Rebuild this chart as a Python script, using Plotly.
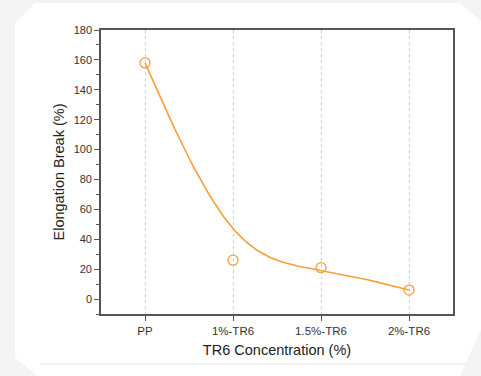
import numpy as np
import plotly.graph_objects as go

categories = ["PP", "1%-TR6", "1.5%-TR6", "2%-TR6"]
elongation = [158, 26, 21, 6]
y_ticks = [0, 20, 40, 60, 80, 100, 120, 140, 160, 180]

ORANGE = "rgb(248,158,58)"

# uniform cubic B-spline using data points as control points (ends tripled)
xc = np.arange(len(categories), dtype=float)
yc = np.array(elongation, dtype=float)
px = np.concatenate([[xc[0]] * 2, xc, [xc[-1]] * 2])
py = np.concatenate([[yc[0]] * 2, yc, [yc[-1]] * 2])
bx, by = [], []
t = np.linspace(0, 1, 60)
b0 = (1 - t) ** 3 / 6
b1 = (3 * t**3 - 6 * t**2 + 4) / 6
b2 = (-3 * t**3 + 3 * t**2 + 3 * t + 1) / 6
b3 = t**3 / 6
for i in range(len(px) - 3):
    seg_x = b0 * px[i] + b1 * px[i + 1] + b2 * px[i + 2] + b3 * px[i + 3]
    seg_y = b0 * py[i] + b1 * py[i + 1] + b2 * py[i + 2] + b3 * py[i + 3]
    if i > 0:
        seg_x, seg_y = seg_x[1:], seg_y[1:]
    bx.extend(seg_x)
    by.extend(seg_y)

fig = go.Figure()
fig.add_trace(go.Scatter(x=bx, y=by, mode="lines",
                         line=dict(color=ORANGE, width=1.6), hoverinfo="skip",
                         showlegend=False))
fig.add_trace(go.Scatter(x=list(range(len(categories))), y=elongation, mode="markers",
                         marker=dict(symbol="circle-open", size=10, color=ORANGE,
                                     line=dict(width=1.3, color=ORANGE)),
                         showlegend=False))

W, H = 481, 376
L, R, T, B = 101, 28, 30, 62
pw, ph = W - L - R, H - T - B


def P(x, y):
    return (x - L) / pw, (H - B - y) / ph


card = [(35, 3), (460, 3), (481, 21), (481, 330), (460, 376), (37, 376), (15, 358), (15, 23)]
path = "M " + " L ".join(f"{P(a, b)[0]:.4f},{P(a, b)[1]:.4f}" for a, b in card) + " Z"
x1, y1 = P(40, 364)
x2, _ = P(467, 364)

fig.update_layout(
    width=W, height=H,
    margin=dict(l=L, r=R, t=T, b=B),
    paper_bgcolor="#f3f3f3",
    plot_bgcolor="white",
    font=dict(family="Liberation Sans, Arial", color="#333333"),
    shapes=[
        dict(type="path", xref="paper", yref="paper", path=path,
             fillcolor="white", line=dict(width=0), layer="below"),
        dict(type="line", xref="paper", yref="paper", x0=x1, y0=y1, x1=x2, y1=y1,
             line=dict(color="#e4e4e4", width=1), layer="below"),
    ],
    xaxis=dict(
        range=[-0.5, 3.5], tickvals=list(range(len(categories))), ticktext=categories,
        showgrid=True, gridcolor="#cfcfcf", griddash="dot", gridwidth=1,
        zeroline=False, showline=True, linecolor="#555555", linewidth=1.6, mirror=True,
        ticks="outside", ticklen=5, tickwidth=1.2, tickcolor="#555555",
        tickfont=dict(size=11.5, color="#333333"),
        title=dict(text="TR6 Concentration (%)", font=dict(size=14.5, color="#222222"), standoff=9),
    ),
    yaxis=dict(
        range=[-10, 180], tickvals=y_ticks, showgrid=False, zeroline=False,
        showline=True, linecolor="#555555", linewidth=1.6, mirror=True,
        ticks="outside", ticklen=5, tickwidth=1.2, tickcolor="#555555",
        minor=dict(dtick=10, ticks="outside", ticklen=3, tickcolor="#555555", tickwidth=1, showgrid=False),
        tickfont=dict(size=11, color="#333333"),
        title=dict(text="Elongation Break (%)", font=dict(size=14.5, color="#222222"), standoff=6),
    ),
)

fig.write_html("out.html")
